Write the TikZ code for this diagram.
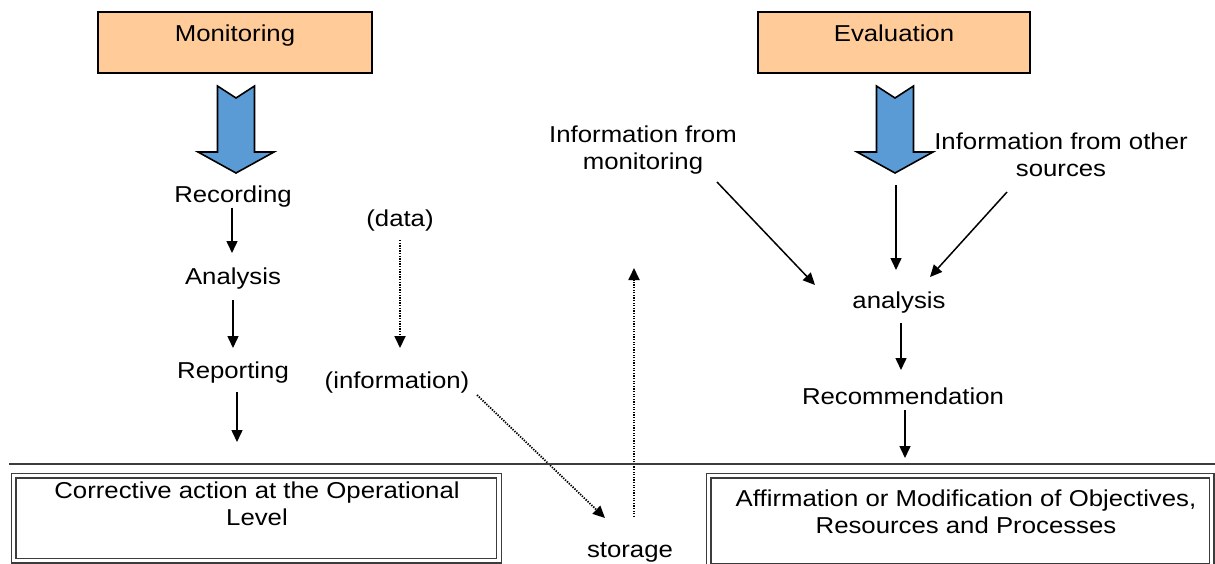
\documentclass[tikz,border=0pt]{standalone}
\usepackage{fontspec}
\setmainfont{Liberation Sans}[FakeStretch=1.12]
\usetikzlibrary{arrows.meta,calc}
\definecolor{peach}{RGB}{255,204,153}
\definecolor{bluearr}{RGB}{91,155,213}
\definecolor{linegray}{RGB}{60,60,60}
\tikzset{
  txt/.style={inner sep=0pt, align=center, font=\fontsize{23}{27}\selectfont},
  topbox/.style={draw=black, line width=2.2pt, fill=peach, inner xsep=0pt, inner ysep=0pt,
    text height=29pt, text depth=32pt, font=\fontsize{23}{27}\selectfont},
  dblbox/.style={draw=linegray, line width=1.4pt, double=white, double distance=3.2pt, inner sep=0pt},
  arr/.style={line width=1.5pt, -{Triangle[length=12pt,width=11pt]}},
  dotarr/.style={line width=1.8pt, dash pattern=on 1.3pt off 1.3pt, -{Triangle[length=12pt,width=11pt]}},
  bigarrow/.style={fill=bluearr, draw=black, line width=1.6pt, line join=miter},
}
\begin{document}
\begin{tikzpicture}[x=1pt,y=-1pt]
\useasboundingbox (0,0) rectangle (1215,563);
\clip (0,0) rectangle (1215,563);

% top boxes
\node[topbox, minimum width=274pt] (mon) at (235,42.5) {Monitoring};
\node[topbox, minimum width=272pt] (eva) at (894,42.5) {Evaluation};

% block arrows
\foreach \cx/\nm in {236/montip, 895/evatip}{
  \draw[bigarrow] (\cx-18.5,86) -- (\cx,98) -- (\cx+18.5,86) -- (\cx+18.5,152) -- (\cx+38,152)
     -- (\cx,173) -- (\cx-38,152) -- (\cx-18.5,152) -- cycle;
  \coordinate (\nm) at (\cx,173);
}

% left column
\node[txt] (rec) at (233,196.5) {Recording};
\node[txt] (ana) at (233,278.5) {Analysis};
\node[txt] (rep) at (233,372.5) {Reporting};
\coordinate (repend) at (237,442);
\draw[arr] ($(rec.center)+(-1,11)$) -- ($(ana.center)+(-1,-25.5)$);
\draw[arr] ($(ana.center)+(0,21.5)$) -- ($(rep.center)+(0,-24.5)$);
\draw[arr] ($(rep.center)+(4,19.5)$) -- (repend);

% middle
\node[txt] (data) at (400,220.5) {(data)};
\node[txt] (info) at (397,382.5) {(information)};
\node[txt] (stor) at (630,552.5) {storage};
\coordinate (stortop) at (634,268);
\draw[dotarr] ($(data.center)+(0,19.5)$) -- ($(info.center)+(3,-34.5)$);
\draw[dotarr] ($(info.center)+(80,12.5)$) -- ($(stor.center)+(-25,-34.5)$);
\draw[dotarr] ($(stor.center)+(4,-35.5)$) -- (stortop);

% right column
\node[txt] (infmon) at (643,150.5) {Information from\\monitoring};
\node[txt] (infoth) at (1061,154.5) {Information from other\\sources};
\node[txt] (an) at (899,302.5) {analysis};
\node[txt] (recom) at (903,396.5) {Recommendation};
\coordinate (recend) at (905,458);
\draw[arr] ($(evatip)+(1,12)$) -- ($(an.center)+(-3,-32.5)$);
\draw[arr] ($(infmon.center)+(74,31.5)$) -- ($(an.center)+(-84,-17.5)$);
\draw[arr] ($(infoth.center)+(-54,37.5)$) -- ($(an.center)+(31,-25.5)$);
\draw[arr] ($(an.center)+(2,20.5)$) -- ($(recom.center)+(-2,-26.5)$);
\draw[arr] ($(recom.center)+(2,13.5)$) -- (recend);

% separator line
\coordinate (sepL) at (9,464);
\coordinate (sepR) at (1215,464);
\draw[linegray, line width=1.3pt] (sepL) -- (sepR);

% bottom boxes
\node[dblbox, minimum width=485.5pt, minimum height=85pt] (corr) at (256.25,518) {};
\node[txt] (corrtxt) at (257,503.5) {Corrective action at the Operational\\Level};
\node[dblbox, minimum width=503pt, minimum height=90pt] (aff) at (960,520.5) {};
\node[txt] (afftxt) at (966,511.5) {Affirmation or Modification of Objectives,\\Resources and Processes};
\end{tikzpicture}
\end{document}
